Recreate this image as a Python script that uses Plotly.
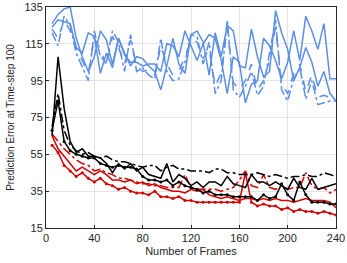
import plotly.graph_objects as go

frames = list(range(5, 245, 5))

blue_a = [126,131,134,135,118,108,100,108,122,117,104,118,110,103,108,107,103,100,90,103,118,104,99,120,122,116,98,121,108,125,122,103,102,123,108,97,100,133,121,112,95,102,113,105,92,100,88,84]
blue_b = [124,128,127,126,113,110,121,119,99,110,102,118,109,105,105,103,104,104,100,115,114,108,122,114,106,115,120,118,106,88,108,105,83,93,95,118,114,106,96,105,122,106,130,122,112,126,96,96]
blue_dd = [121,114,130,125,110,102,95,122,108,105,122,116,100,120,100,102,98,96,118,100,95,96,105,120,119,104,116,88,95,128,90,86,92,100,87,92,110,128,90,84,96,102,85,95,82,83,84,84]
blue_da = [123,118,128,122,112,106,99,118,112,103,119,113,104,117,103,100,101,98,114,104,98,100,108,117,116,107,112,92,99,124,94,90,95,104,90,95,106,124,93,88,99,104,89,98,86,87,86,85]

black_dd = [70,88,68,60,57,55,56,54,53,54,52,51,51,50,49,48,49,49,46,48,49,47,47,46,46,46,45,47,47,45,45,44,44,44,45,44,43,44,43,42,43,43,44,43,43,45,44,43]
black_s1 = [65,108,80,62,56,58,54,54,53,50,45,50,47,50,46,48,44,43,42,50,40,44,42,38,40,37,40,40,38,43,39,38,37,44,40,40,38,40,38,36,42,37,36,42,36,37,38,39]
black_s2 = [68,84,62,57,55,54,53,53,50,49,48,49,48,48,47,43,41,41,40,41,38,40,38,37,36,34,35,33,33,33,32,32,32,32,30,33,31,32,39,33,30,40,33,29,29,29,28,28]

red_s1 = [60,56,49,46,43,45,42,40,42,39,38,36,37,35,34,34,33,35,32,32,31,32,30,30,29,29,29,29,29,29,29,29,45,29,27,28,27,27,25,26,24,25,24,24,23,24,23,22]
red_s2 = [65,58,54,50,46,48,46,44,46,44,41,41,40,41,39,40,38,39,37,36,35,35,34,36,35,36,33,32,31,32,31,30,31,31,30,31,30,31,30,30,29,30,31,30,30,30,29,26]
red_dd = [66,62,58,55,52,50,49,46,47,45,44,42,42,41,40,39,39,38,38,37,37,37,44,37,36,36,36,36,35,36,37,41,46,38,37,44,37,36,38,36,37,37,45,38,36,37,34,36]

BLUE = "#5b8ee6"
RED = "#d40000"
BLACK = "#000000"

fig = go.Figure()

def add(y, color, dash="solid", marker=False, width=1.5):
    fig.add_trace(go.Scatter(
        x=frames, y=y,
        mode="lines+markers" if marker else "lines",
        line=dict(color=color, width=width, dash=dash),
        marker=dict(size=3, color=color),
        showlegend=False,
    ))

add(blue_da, BLUE, "dash")
add(blue_dd, BLUE, "dashdot")
add(blue_b, BLUE)
add(blue_a, BLUE)
add(red_dd, RED, "dashdot")
add(red_s2, RED)
add(red_s1, RED, marker=True)
add(black_dd, BLACK, "dashdot")
add(black_s1, BLACK)
add(black_s2, BLACK, marker=True)

axis_common = dict(
    showline=True, linecolor="#262626", linewidth=1, mirror=True,
    showgrid=True, gridcolor="#e3e3e3", gridwidth=1,
    ticks="inside", ticklen=3, tickcolor="#262626",
    zeroline=False,
    tickfont=dict(family="Liberation Sans, Arial, sans-serif", size=11, color="#262626"),
)

fig.update_layout(
    width=347, height=263,
    margin=dict(l=46, r=11, t=7, b=35, autoexpand=False),
    paper_bgcolor="white", plot_bgcolor="white",
    font=dict(family="Liberation Sans, Arial, sans-serif", size=10, color="#262626"),
    xaxis=dict(range=[0, 240], tickvals=[0, 40, 80, 120, 160, 200, 240],
               title=dict(text="Number of Frames", standoff=4,
                          font=dict(size=11)), automargin=False, **axis_common),
    yaxis=dict(range=[15, 135], tickvals=[15, 35, 55, 75, 95, 115, 135],
               title=dict(text="Prediction Error at Time-step 100", standoff=7,
                          font=dict(size=10)), automargin=False, **axis_common),
)

fig.write_html("out.html", config={"displayModeBar": False},
               post_script="document.body.style.margin='0';")
